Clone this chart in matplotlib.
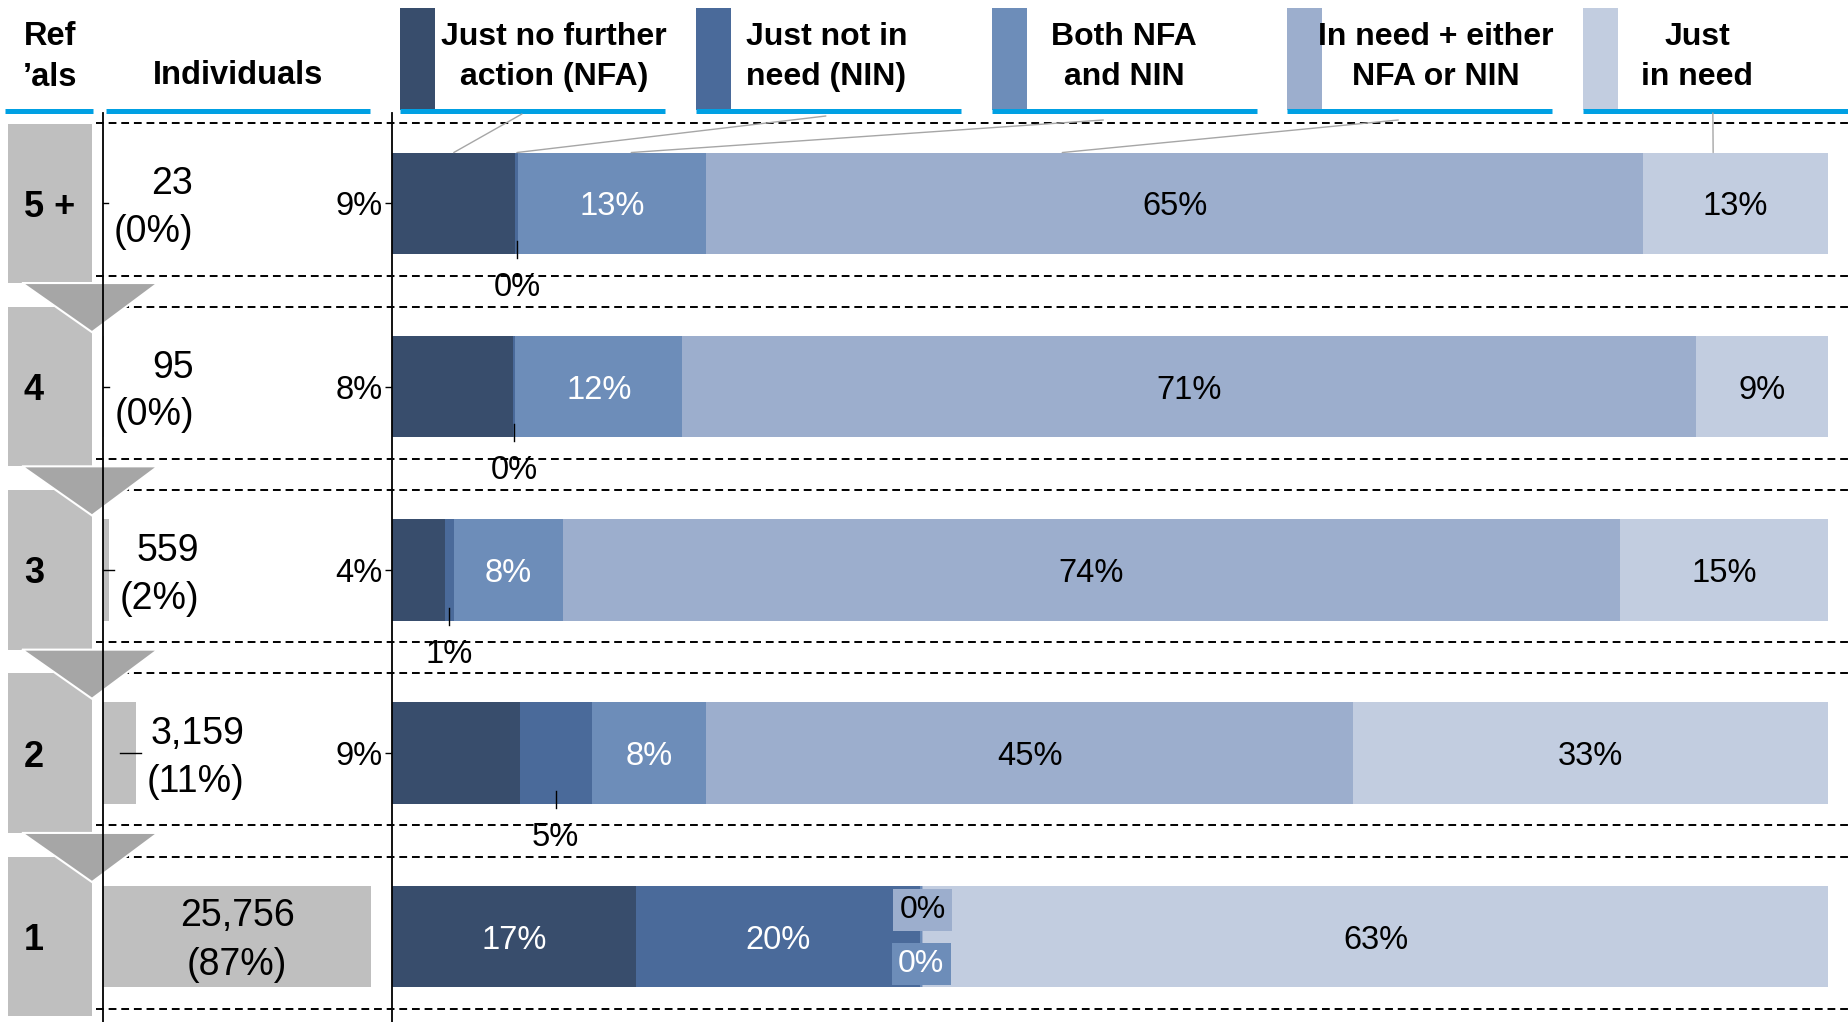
import matplotlib
matplotlib.use('Agg')
import matplotlib.pyplot as plt
from matplotlib.patches import Rectangle, Polygon, ConnectionPatch
from matplotlib.transforms import blended_transform_factory

plt.rcParams['font.family'] = ['Liberation Sans', 'DejaVu Sans']

# ---- data ----
rows = ['5 +', '4', '3', '2', '1']
individuals = [23, 95, 559, 3159, 25756]

series = ['Just no further\naction (NFA)', 'Just not in\nneed (NIN)', 'Both NFA\nand NIN',
          'In need + either\nNFA or NIN', 'Just\nin need']
nfa = [8.6, 8.4, 3.7, 8.9, 17.0]
nin = [0.2, 0.2, 0.6, 5.0, 19.8]
both = [13.1, 11.6, 7.6, 8.0, 0.1]
either = [65.2, 70.6, 73.6, 45.0, 0.1]
just_need = [12.9, 9.2, 14.6, 33.1, 63.0]

colors = ['#384d6c', '#4a6a9a', '#6d8db9', '#9caecd', '#c2cde0']
text_col = ['white', 'white', 'white', 'black', 'black']
grey = '#bfbfbf'
blue = '#00a0e3'

# ---- layout (pixels of the 1848x1022 picture) ----
W, H = 1848, 1022
PITCH = 183.3
ROW1_Y = 936.5
TOP_Y = 113
ylo, yhi = -(H - ROW1_Y) / PITCH, (ROW1_Y - TOP_Y) / PITCH
BAR_H = 0.554
ypos = [4, 3, 2, 1, 0]

fig = plt.figure(figsize=(W / 100, H / 100), dpi=100)

deco = fig.add_axes([0, 0, 1, 1])
deco.set_xlim(0, W)
deco.set_ylim(H, 0)
deco.axis('off')

ax = fig.add_axes([392 / W, 0, (1828 - 392) / W, (H - TOP_Y) / H])
axi = fig.add_axes([103 / W, 0, 308 / W, (H - TOP_Y) / H])
for a in (ax, axi):
    a.set_ylim(ylo, yhi)
    a.set_xlim(0, 100)
    a.patch.set_visible(False)
    for s in ('top', 'right', 'bottom'):
        a.spines[s].set_visible(False)
    a.spines['left'].set_linewidth(1.3)
    a.set_xticks([])

tr = blended_transform_factory(deco.transData, ax.transData)

# dashed row bands
for y in ypos:
    for off in (0.436, -0.394):
        deco.plot([96, W], [y + off, y + off], transform=tr, color='black',
                  lw=1.4, ls=(0, (4, 2.5)), zorder=1)

# grey chevrons on the left
for j, y in enumerate(ypos):
    deco.add_patch(Rectangle((8, y - 0.435), 84, 0.87, transform=tr,
                             fc=grey, ec='none', zorder=2))
    deco.text(24, y, rows[j], transform=tr, ha='left', va='center_baseline',
              fontsize=26, fontweight='bold', zorder=4)
    if j < len(ypos) - 1:
        deco.add_patch(Polygon([(22, y - 0.435), (158, y - 0.435), (92, y - 0.435 - 0.268)],
                               closed=True, transform=tr, fc='#a6a6a6', ec='white',
                               lw=1.5, zorder=3))

# header
deco.plot([5, 93], [111, 111], color=blue, lw=3.6, solid_capstyle='butt')
deco.plot([106, 370], [111, 111], color=blue, lw=3.6, solid_capstyle='butt')
deco.text(50, 57, 'Ref\n\u2019als', ha='center', va='center', fontsize=23.5,
          fontweight='bold', multialignment='center', linespacing=1.42)
deco.text(238, 76, 'Individuals', ha='center', va='center', fontsize=23.5, fontweight='bold')

leg_x0 = [400, 696, 992, 1287, 1583]
leg_tx = [554, 746, 1124, 1436, 1697]
leg_ha = ['center', 'left', 'center', 'center', 'center']
for k, x0 in enumerate(leg_x0):
    deco.plot([x0, x0 + 265], [111, 111], color=blue, lw=3.6, solid_capstyle='butt')
    deco.add_patch(Rectangle((x0, 8), 35, 102, fc=colors[k], ec='none'))
    deco.text(leg_tx[k], 57, series[k], ha=leg_ha[k], va='center', fontsize=23,
              fontweight='bold', multialignment=leg_ha[k], linespacing=1.42)

# ---- main stacked bars ----
vals = [nfa, nin, both, either, just_need]
lefts = []
cum = [0.0] * len(rows)
for k, v in enumerate(vals):
    lefts.append(list(cum))
    ax.barh(ypos, v, left=cum, height=BAR_H, color=colors[k], zorder=2)
    cum = [c + x for c, x in zip(cum, v)]

for k, v in enumerate(vals):
    for j, y in enumerate(ypos):
        val = v[j]
        cx = lefts[k][j] + val / 2
        lab = f'{val:.0f}%'
        if k == 0:
            if val >= 10:
                ax.text(cx, y, lab, ha='center', va='center_baseline', fontsize=23.5,
                        color='white', zorder=5)
        elif k == 1:
            if val >= 10:
                ax.text(cx, y, lab, ha='center', va='center_baseline', fontsize=23.5,
                        color='white', zorder=5)
            else:
                ax.plot([cx, cx], [y - BAR_H / 2 + 0.071, y - BAR_H / 2 - 0.022],
                        color='black', lw=1, zorder=4)
                ax.text(cx, y - 0.46, lab, ha='center', va='center', fontsize=23.5, zorder=5)
        elif k in (2, 3) and val < 1:
            dy = -0.15 if k == 2 else 0.145
            ax.text(cx, y + dy, lab, ha='center', va='center', fontsize=23,
                    color=text_col[k], zorder=6,
                    bbox=dict(boxstyle='square,pad=0.2', fc=colors[k], ec='none'))
        else:
            ax.text(cx, y, lab, ha='center', va='center_baseline', fontsize=23.5,
                    color=text_col[k], zorder=5)

# NFA values shown beside the axis
tick_rows = [y for y, v in zip(ypos, nfa) if v < 10]
tick_labs = [f'{v:.0f}%' for v in nfa if v < 10]
ax.set_yticks(tick_rows)
ax.set_yticklabels(tick_labs, va='center_baseline')
ax.tick_params(axis='y', direction='inout', length=10, width=1, labelsize=23.5, pad=2)

# leader lines from legend to the top bar
leg_anchor = [0.46, 0.49, 0.42, 0.42, 0.49]
leg_y = [114, 116, 120, 120, 113]
bar_anchor = [0.5, 0.5, 0.6, 0.38, 0.38]
for k in range(len(series)):
    bx = lefts[k][0] + bar_anchor[k] * vals[k][0]
    con = ConnectionPatch(xyA=(leg_x0[k] + leg_anchor[k] * 265, leg_y[k]), coordsA=deco.transData,
                          xyB=(bx, ypos[0] + BAR_H / 2), coordsB=ax.transData,
                          color='#a6a6a6', lw=1)
    fig.add_artist(con)

# ---- individuals column ----
total = sum(individuals)
share = [n / total * 100 for n in individuals]
axi.barh(ypos, share, height=BAR_H, color=grey, zorder=2)
axi.set_yticks([])
for j, y in enumerate(ypos):
    lab = f'{individuals[j]:,}\n({share[j]:.0f}%)'
    if share[j] > 50:
        axi.annotate(lab, (share[j] / 2, y), xytext=(0, -3), textcoords='offset points',
                     ha='center', va='center', fontsize=27,
                     multialignment='center', linespacing=1.45, zorder=5)
    else:
        axi.plot([max(0, share[j] - 5.2), share[j] + 1.6], [y, y], color='black', lw=1, zorder=4)
        axi.annotate(lab, (share[j], y), xytext=(7.5, -3.5), textcoords='offset points',
                     ha='left', va='center', fontsize=27, multialignment='right',
                     linespacing=1.42, zorder=5)

fig.savefig('out.png', dpi=100)
